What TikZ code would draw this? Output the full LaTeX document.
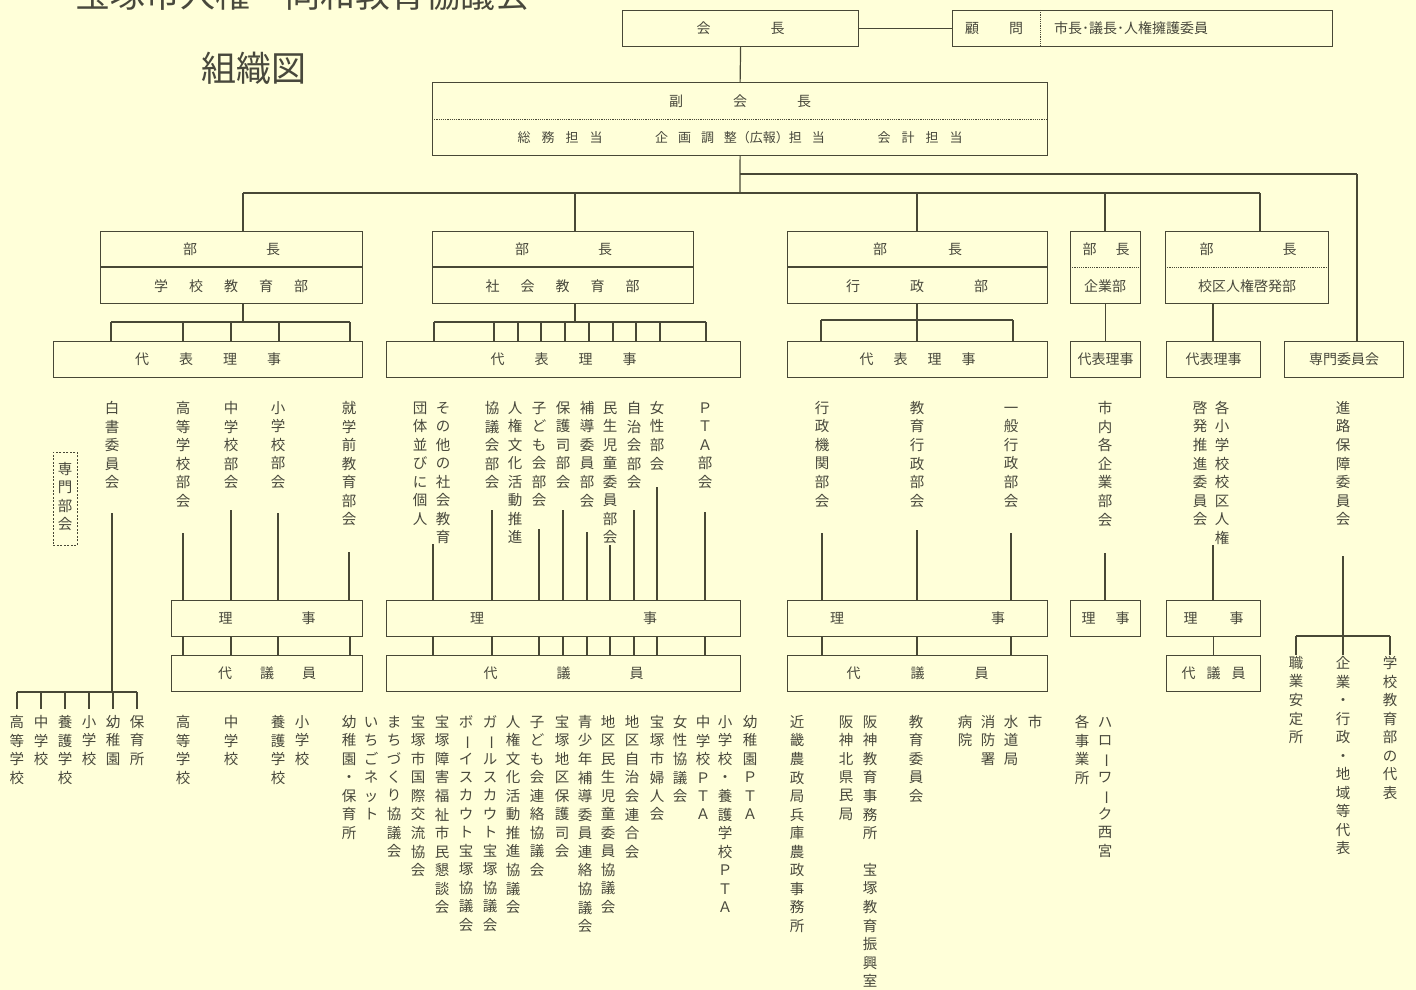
\documentclass[tikz,border=0pt]{standalone}
\usepackage{fontspec}
\usepackage{graphicx}
\setmainfont{Noto Sans CJK JP}
\definecolor{bg}{RGB}{255,255,217}
\definecolor{linec}{RGB}{72,72,54}
\definecolor{txtc}{RGB}{72,72,60}
\newcommand\vcho{\rotatebox[origin=c]{-90}{ー}}
\newcommand\vblank{}
\makeatletter
\newcommand\vstack[1]{\vbox{\offinterlineskip\vt@loop#1\relax}}
\def\vt@loop#1{\ifx\relax#1\else\hbox to 16pt{\vrule height 12pt depth 6.4pt width 0pt\hss#1\hss}\expandafter\vt@loop\fi}
\makeatother
\tikzset{
  ln/.style={draw=linec, line width=1.2pt},
  dotln/.style={draw=linec, line width=1pt, dash pattern=on 1.2pt off 1pt},
  box/.style={draw=linec, line width=1.2pt, anchor=north west, inner sep=0pt, text=txtc, font=\fontsize{14}{14}\selectfont},
  lbl/.style={inner sep=0pt, text=txtc, font=\fontsize{14}{14}\selectfont},
  vt/.style={inner sep=0pt, anchor=north, text=txtc, font=\fontsize{14.5}{14.5}\selectfont},
}
\begin{document}
\begin{tikzpicture}[x=1pt,y=-1pt]
\useasboundingbox (0,0) rectangle (1416,990);
\fill[bg] (0,0) rectangle (1416,990);
\begin{scope}
\clip (0,0) rectangle (1416,990);
\node[anchor=base west, inner sep=0pt, text=txtc, font=\fontsize{35}{35}\selectfont] (title) at (75,8) {宝塚市人権・同和教育協議会};
\end{scope}
\node[lbl, font=\fontsize{35}{35}\selectfont] (soshiki) at (254,68) {組織図};

% ---- top
\node[box, minimum width=236pt, minimum height=36pt] (kaicho) at (622,10) {会\hspace{60pt}長};
\node[box, minimum width=380pt, minimum height=36pt] (komon) at (952,10) {};
\draw[dotln] (1040,10) -- (1040,46);
\node[lbl] (komon1) at (994,28) {顧\hspace{30pt}問};
\node[lbl, anchor=west] (komon2) at (1054,28) {市長･議長･人権擁護委員};
\draw[ln] (kaicho) -- (komon);

\node[box, minimum width=615pt, minimum height=73pt] (fuku) at (432,82) {};
\draw[dotln] (432,119) -- (1047,119);
\node[lbl] (fuku1) at (740,101) {副\hspace{50pt}会\hspace{50pt}長};
\node[lbl, font=\fontsize{13}{13}\selectfont] (fuku2) at (560,138) {総\hspace{11pt}務\hspace{11pt}担\hspace{11pt}当};
\node[lbl, font=\fontsize{13}{13}\selectfont] (fuku3) at (740,138) {企\hspace{10pt}画\hspace{10pt}調\hspace{10pt}整（広報）担\hspace{10pt}当};
\node[lbl, font=\fontsize{13}{13}\selectfont] (fuku4) at (920,138) {会\hspace{11pt}計\hspace{11pt}担\hspace{11pt}当};
\draw[ln] (kaicho.south) -- (fuku.north);

% ---- buses
\coordinate (j0) at (740,193);
\coordinate (t0) at (740,174);
\coordinate (t1) at (1357,174);
\coordinate (bL) at (243,193);
\coordinate (bR) at (1260,193);
\draw[ln] (fuku.south) -- (j0);
\draw[ln] (bL) -- (bR);
\draw[ln] (t0) -- (t1);

% ---- departments
\node[box, minimum width=262pt, minimum height=72pt] (d1) at (100,231) {};
\node[box, minimum width=261pt, minimum height=72pt] (d2) at (432,231) {};
\node[box, minimum width=260pt, minimum height=72pt] (d3) at (787,231) {};
\node[box, minimum width=70pt, minimum height=72pt] (d4) at (1070,231) {};
\node[box, minimum width=163pt, minimum height=72pt] (d5) at (1165,231) {};
\draw[ln] (100,267) -- (362,267);
\draw[ln] (432,267) -- (693,267);
\draw[ln] (787,267) -- (1047,267);
\draw[dotln] (1070,267) -- (1140,267);
\draw[dotln] (1165,267) -- (1328,267);
\node[lbl] (d1a) at (231.5,249) {部\hspace{69pt}長};
\node[lbl] (d1b) at (231,286) {学\hspace{21pt}校\hspace{21pt}教\hspace{21pt}育\hspace{21pt}部};
\node[lbl] (d2a) at (563.5,249) {部\hspace{69pt}長};
\node[lbl] (d2b) at (562.5,286) {社\hspace{21pt}会\hspace{21pt}教\hspace{21pt}育\hspace{21pt}部};
\node[lbl] (d3a) at (917.5,249) {部\hspace{61pt}長};
\node[lbl] (d3b) at (917,286) {行\hspace{50pt}政\hspace{50pt}部};
\node[lbl] (d4a) at (1106,249) {部\hspace{19pt}長};
\node[lbl] (d4b) at (1105,286) {企業部};
\node[lbl] (d5a) at (1248,249) {部\hspace{69pt}長};
\node[lbl] (d5b) at (1247,286) {校区人権啓発部};
\draw[ln] (bL) -- (bL |- d1.north);
\draw[ln] (575,193) -- (575,231);
\draw[ln] (917,193) -- (917,231);
\draw[ln] (1105,193) -- (1105,231);
\draw[ln] (bR) -- (bR |- d5.north);

% ---- 代表理事 row
\node[box, minimum width=309pt, minimum height=36pt] (r1) at (53,341) {代\hspace{30pt}表\hspace{30pt}理\hspace{30pt}事};
\node[box, minimum width=354pt, minimum height=36pt] (r2) at (386,341) {代\hspace{30pt}表\hspace{30pt}理\hspace{30pt}事};
\node[box, minimum width=260pt, minimum height=36pt] (r3) at (787,341) {代\hspace{20pt}表\hspace{20pt}理\hspace{20pt}事};
\node[box, minimum width=70pt, minimum height=36pt] (r4) at (1070,341) {代表理事};
\node[box, minimum width=94pt, minimum height=36pt] (r5) at (1166,341) {代表理事};
\node[box, minimum width=119pt, minimum height=36pt] (r6) at (1284,341) {専門委員会};
\draw[ln] (t1) -- (t1 |- r6.north);
\draw[ln] (243,303) -- (243,322);
\draw[ln] (111,322) -- (350,322);
\foreach \x in {111,183,231,279,350} \draw[ln] (\x,322) -- (\x,341);
\draw[ln] (575,303) -- (575,322);
\draw[ln] (434,322) -- (706,322);
\foreach \x in {434,494,518,541,565,589,613,636,660,706} \draw[ln] (\x,322) -- (\x,341);
\draw[ln] (917,303) -- (917,341);
\draw[ln] (821,320) -- (1013,320);
\foreach \x in {821,1013} \draw[ln] (\x,320) -- (\x,341);
\draw[ln] (d4) -- (r4);
\draw[ln] (1213,303) -- (1213,341);

% ---- upper vertical texts
\node[vt] (u1) at (112,401) {\vstack{白書委員会}};
\node[vt] (u2) at (183,401) {\vstack{高等学校部会}};
\node[vt] (u3) at (231,401) {\vstack{中学校部会}};
\node[vt] (u4) at (278,401) {\vstack{小学校部会}};
\node[vt] (u5) at (349,401) {\vstack{就学前教育部会}};
\node[draw=linec, line width=0.9pt, dash pattern=on 2pt off 1.5pt, minimum width=24pt, minimum height=93pt, anchor=north west, inner sep=0pt] (senbu) at (53,452) {};
\node[vt] (senbut) at (65,462) {\vstack{専門部会}};

\node[vt] (u6) at (420,401) {\vstack{団体並びに個人}};
\node[vt] (u7) at (443,401) {\vstack{その他の社会教育}};
\node[vt] (u8) at (492,401) {\vstack{協議会部会}};
\node[vt] (u9) at (515,401) {\vstack{人権文化活動推進}};
\node[vt] (u10) at (539,401) {\vstack{子ども会部会}};
\node[vt] (u11) at (563,401) {\vstack{保護司部会}};
\node[vt] (u12) at (587,401) {\vstack{補導委員部会}};
\node[vt] (u13) at (610,401) {\vstack{民生児童委員部会}};
\node[vt] (u14) at (634,401) {\vstack{自治会部会}};
\node[vt] (u15) at (657,401) {\vstack{女性部会}};
\node[vt] (u16) at (705,401) {\vstack{ＰＴＡ部会}};

\node[vt] (u17) at (822,401) {\vstack{行政機関部会}};
\node[vt] (u18) at (917,401) {\vstack{教育行政部会}};
\node[vt] (u19) at (1011,401) {\vstack{一般行政部会}};
\node[vt] (u20) at (1105,401) {\vstack{市内各企業部会}};
\node[vt] (u21) at (1200,401) {\vstack{啓発推進委員会}};
\node[vt] (u22) at (1222,401) {\vstack{各小学校校区人権}};
\node[vt] (u23) at (1343,401) {\vstack{進路保障委員会}};

% ---- 理事 / 代議員 boxes
\node[box, minimum width=191pt, minimum height=36pt] (rj1) at (171,600) {理\hspace{69pt}事};
\node[box, minimum width=354pt, minimum height=36pt] (rj2) at (386,600) {理\hspace{159pt}事};
\node[box, minimum width=260pt, minimum height=36pt] (rj3) at (787,600) {理\hspace{147pt}事};
\node[box, minimum width=70pt, minimum height=36pt] (rj4) at (1070,600) {理\hspace{20pt}事};
\node[box, minimum width=94pt, minimum height=36pt] (rj5) at (1166,600) {理\hspace{32pt}事};
\node[box, minimum width=191pt, minimum height=36pt] (dg1) at (171,655) {代\hspace{28pt}議\hspace{28pt}員};
\node[box, minimum width=354pt, minimum height=36pt] (dg2) at (386,655) {代\hspace{59pt}議\hspace{59pt}員};
\node[box, minimum width=260pt, minimum height=36pt] (dg3) at (787,655) {代\hspace{50pt}議\hspace{50pt}員};
\node[box, minimum width=94pt, minimum height=36pt] (dg5) at (1166,655) {代\hspace{11pt}議\hspace{11pt}員};

% lines from upper texts
\draw[ln] (112,513) -- (112,692);
\foreach \x/\y in {183/533,231/510,278/513,349/552} \draw[ln] (\x,\y) -- (\x,600);
\foreach \x/\y in {433/544,492/510,539/529,563/510,587/532,610/545,634/510,657/487,705/512} \draw[ln] (\x,\y) -- (\x,600);
\foreach \x/\y in {822/533,917/530,1011/533,1105/553,1213/545} \draw[ln] (\x,\y) -- (\x,600);
\draw[ln] (1343,556) -- (1343,636);
% 理事 -> 代議員
\foreach \x in {183,231,278,350,433,492,539,563,587,610,634,657,705,822,917,1011} \draw[ln] (\x,636) -- (\x,655);
\draw[ln] (rj5) -- (dg5);

% ---- bottom buses
\draw[ln] (17,692) -- (137,692);
\foreach \x in {17,41,65,89,113,137} \draw[ln] (\x,692) -- (\x,709);
\draw[ln] (1296,636) -- (1390,636);
\foreach \x in {1296,1343,1390} \draw[ln] (\x,636) -- (\x,655);

% ---- bottom vertical texts
\node[vt] (w1) at (17,715) {\vstack{高等学校}};
\node[vt] (w2) at (41,715) {\vstack{中学校}};
\node[vt] (w3) at (65,715) {\vstack{養護学校}};
\node[vt] (w4) at (89,715) {\vstack{小学校}};
\node[vt] (w5) at (113,715) {\vstack{幼稚園}};
\node[vt] (w6) at (137,715) {\vstack{保育所}};
\node[vt] (w7) at (183,715) {\vstack{高等学校}};
\node[vt] (w8) at (231,715) {\vstack{中学校}};
\node[vt] (w9) at (278,715) {\vstack{養護学校}};
\node[vt] (w10) at (302,715) {\vstack{小学校}};

\node[vt] (x1) at (349,715) {\vstack{幼稚園・保育所}};
\node[vt] (x2) at (371,715) {\vstack{いちごネット}};
\node[vt] (x3) at (394,715) {\vstack{まちづくり協議会}};
\node[vt] (x4) at (418,715) {\vstack{宝塚市国際交流協会}};
\node[vt] (x5) at (442,715) {\vstack{宝塚障害福祉市民懇談会}};
\node[vt] (x6) at (466,715) {\vstack{ボ\vcho イスカウト宝塚協議会}};
\node[vt] (x7) at (490,715) {\vstack{ガ\vcho ルスカウト宝塚協議会}};
\node[vt] (x8) at (513,715) {\vstack{人権文化活動推進協議会}};
\node[vt] (x9) at (537,715) {\vstack{子ども会連絡協議会}};
\node[vt] (x10) at (562,715) {\vstack{宝塚地区保護司会}};
\node[vt] (x11) at (585,715) {\vstack{青少年補導委員連絡協議会}};
\node[vt] (x12) at (608,715) {\vstack{地区民生児童委員協議会}};
\node[vt] (x13) at (632,715) {\vstack{地区自治会連合会}};
\node[vt] (x14) at (657,715) {\vstack{宝塚市婦人会}};
\node[vt] (x15) at (680,715) {\vstack{女性協議会}};
\node[vt] (x16) at (703,715) {\vstack{中学校ＰＴＡ}};
\node[vt] (x17) at (725,715) {\vstack{小学校・養護学校ＰＴＡ}};
\node[vt] (x18) at (750,715) {\vstack{幼稚園ＰＴＡ}};

\node[vt] (y1) at (797,715) {\vstack{近畿農政局兵庫農政事務所}};
\node[vt] (y2) at (846,715) {\vstack{阪神北県民局}};
\node[vt] (y3) at (870,715) {\vstack{阪神教育事務所\vblank 宝塚教育振興室}};
\node[vt] (y4) at (916,715) {\vstack{教育委員会}};
\node[vt] (y5) at (965,715) {\vstack{病院}};
\node[vt] (y6) at (988,715) {\vstack{消防署}};
\node[vt] (y7) at (1011,715) {\vstack{水道局}};
\node[vt] (y8) at (1035,715) {\vstack{市}};
\node[vt] (y9) at (1082,715) {\vstack{各事業所}};
\node[vt] (y10) at (1105,715) {\vstack{ハロ\vcho ワ\vcho ク西宮}};

\node[vt] (z1) at (1296,656) {\vstack{職業安定所}};
\node[vt] (z2) at (1343,656) {\vstack{企業・行政・地域等代表}};
\node[vt] (z3) at (1390,656) {\vstack{学校教育部の代表}};
\end{tikzpicture}
\end{document}
